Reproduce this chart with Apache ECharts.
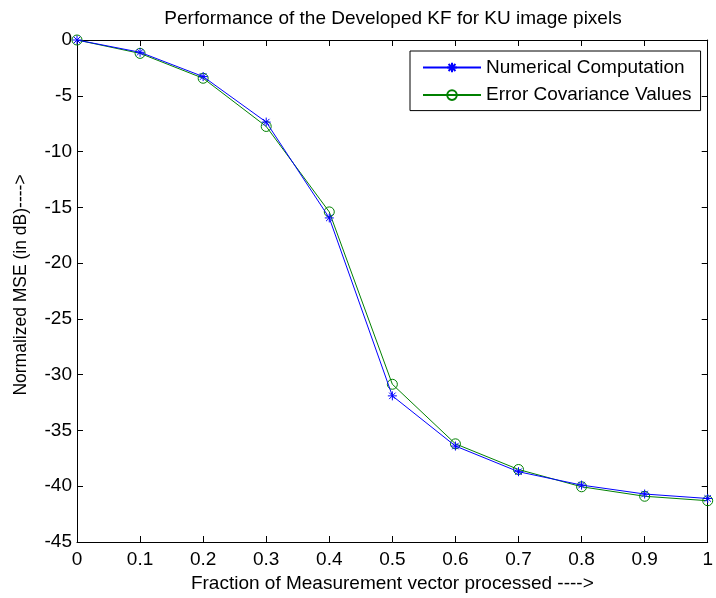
<!DOCTYPE html>
<html>
<head>
<meta charset="utf-8">
<script src="https://cdn.jsdelivr.net/npm/echarts@6/dist/echarts.min.js"></script>
<style>
  html, body { margin: 0; padding: 0; background: #fff; }
  #chart { width: 716px; height: 598px; }
</style>
</head>
<body>
<div id="chart"></div>
<script>
// Fraction of the measurement vector processed
const fractions = [0, 0.1, 0.2, 0.3, 0.4, 0.5, 0.6, 0.7, 0.8, 0.9, 1.0];
// Normalized MSE (dB) from the numerical computation
const numericalMSE = [0, -1.1, -3.28, -7.36, -15.95, -31.9, -36.4, -38.7, -39.9, -40.7, -41.1];
// Normalized MSE (dB) from the error covariance values
const covarianceMSE = [0, -1.2, -3.43, -7.75, -15.41, -30.86, -36.2, -38.5, -40.05, -40.9, -41.3];
const xTicks = { min: 0, max: 1, step: 0.1 };
const yTicks = { min: -45, max: 0, step: 5 };

const FONT = 'Liberation Sans, Arial, sans-serif';
const FS = 19;
const star = 'path://M0,-1L0,1M-1,0L1,0M-0.72,-0.72L0.72,0.72M-0.72,0.72L0.72,-0.72';

function pairs(xs, ys) { return xs.map((x, i) => [x, ys[i]]); }

const axisLine = { show: true, onZero: false, lineStyle: { color: '#000', width: 1 } };
const tick = { show: true, inside: true, length: 6, lineStyle: { color: '#000', width: 1 } };

const chart = echarts.init(document.getElementById('chart'), null, { renderer: 'canvas' });
chart.setOption({
  animation: false,
  backgroundColor: '#fff',
  title: {
    text: 'Performance of the Developed KF for KU image pixels',
    left: 388, top: 4, textAlign: 'center',
    textStyle: { fontFamily: FONT, fontSize: FS, fontWeight: 'normal', color: '#000' }
  },
  grid: { left: 77, right: 3, top: 40, bottom: 55, containLabel: false },
  legend: {
    orient: 'vertical',
    left: 410, top: 51,
    backgroundColor: '#fff',
    borderColor: '#000', borderWidth: 1,
    padding: [7, 9, 6, 12],
    itemWidth: 58, itemHeight: 12, itemGap: 8.6,
    textStyle: { fontFamily: FONT, fontSize: FS, color: '#000' },
    data: ['Numerical Computation', 'Error Covariance Values']
  },
  xAxis: [
    {
      type: 'value', min: xTicks.min, max: xTicks.max, interval: xTicks.step,
      position: 'bottom',
      name: 'Fraction of Measurement vector processed ---->',
      nameLocation: 'middle', nameGap: 32,
      nameTextStyle: { fontFamily: FONT, fontSize: FS, color: '#000' },
      axisLine, axisTick: tick,
      axisLabel: { fontFamily: FONT, fontSize: FS, color: '#000', margin: 8,
        formatter: v => String(Math.round(v * 10) / 10) },
      splitLine: { show: false }
    },
    {
      type: 'value', min: xTicks.min, max: xTicks.max, interval: xTicks.step,
      position: 'top', axisLine, axisTick: tick,
      axisLabel: { show: false }, splitLine: { show: false }
    }
  ],
  yAxis: [
    {
      type: 'value', min: yTicks.min, max: yTicks.max, interval: yTicks.step,
      position: 'left',
      name: 'Normalized MSE (in dB)---->',
      nameLocation: 'middle', nameGap: 47,
      nameTextStyle: { fontFamily: FONT, fontSize: 17.5, color: '#000', padding: [0, 0, 0, 12] },
      axisLine, axisTick: tick,
      axisLabel: { fontFamily: FONT, fontSize: FS, color: '#000', margin: 5 },
      splitLine: { show: false }
    },
    {
      type: 'value', min: yTicks.min, max: yTicks.max, interval: yTicks.step,
      position: 'right', axisLine, axisTick: tick,
      axisLabel: { show: false }, splitLine: { show: false }
    }
  ],
  series: [
    {
      name: 'Numerical Computation',
      type: 'line',
      data: pairs(fractions, numericalMSE),
      symbol: star, symbolSize: 9,
      lineStyle: { color: '#0000ff', width: 1 },
      itemStyle: { color: '#0000ff', borderColor: '#0000ff', borderWidth: 1 },
      z: 3
    },
    {
      name: 'Error Covariance Values',
      type: 'line',
      data: pairs(fractions, covarianceMSE),
      symbol: 'circle', symbolSize: 10,
      lineStyle: { color: '#008000', width: 1 },
      itemStyle: { color: 'rgba(0,0,0,0)', borderColor: '#008000', borderWidth: 1 },
      z: 2
    }
  ]
});
</script>
</body>
</html>
